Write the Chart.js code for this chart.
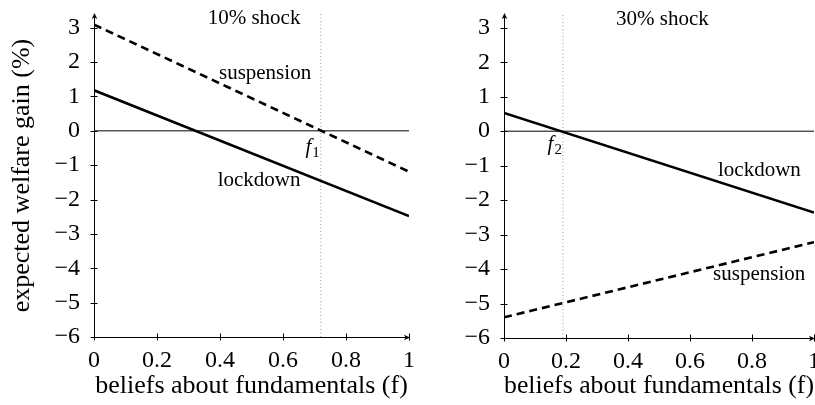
<!DOCTYPE html>
<html>
<head>
<meta charset="utf-8">
<script src="https://cdn.jsdelivr.net/npm/chart.js@4.4.1/dist/chart.umd.min.js"></script>
<style>
  html, body { margin: 0; padding: 0; background: #fff; overflow: hidden; }
  #wrap { position: relative; width: 815px; height: 405px; overflow: hidden; }
  canvas { position: absolute; top: 0; }
</style>
</head>
<body>
<div id="wrap">
  <canvas id="chartShock10" width="425" height="405" style="left:0"></canvas>
  <canvas id="chartShock30" width="430" height="405" style="left:410px"></canvas>
</div>
<script>
// dados
const xTicks = [0, 0.2, 0.4, 0.6, 0.8, 1];
const xTickLabels = ['0', '0.2', '0.4', '0.6', '0.8', '1'];
const yTicks = [-6, -5, -4, -3, -2, -1, 0, 1, 2, 3];
const yTickLabels = ['\u22126', '\u22125', '\u22124', '\u22123', '\u22122', '\u22121', '0', '1', '2', '3'];
const beliefs = [0, 1];
const lockdown10 = [1.18, -2.48];
const suspension10 = [3.09, -1.19];
const lockdown30 = [0.53, -2.36];
const suspension30 = [-5.4, -3.22];
const f1 = 0.72;
const f2 = 0.19;
const yMin = -6, yMax = 3.4;

const SERIF = "'Liberation Serif', 'Times New Roman', serif";
const INK = '#000';

function pts(xs, ys) {
    return xs.map((x, i) => ({ x: x, y: ys[i] }));
}

// ticks que cruzam os eixos, setas e rótulos de texto
const decor = {
    id: 'decor',
    afterDraw(chart, args, opts) {
        const { ctx, chartArea: a, scales: { x, y } } = chart;
        ctx.save();
        ctx.strokeStyle = INK;
        ctx.fillStyle = INK;
        ctx.lineWidth = 1;

        ctx.beginPath();
        yTicks.forEach(v => {
            const py = Math.round(y.getPixelForValue(v)) + 0.5;
            ctx.moveTo(a.left - 3.5, py);
            ctx.lineTo(a.left + 3.5, py);
        });
        xTicks.forEach(v => {
            const px = Math.round(x.getPixelForValue(v)) + 0.5;
            ctx.moveTo(px, a.bottom - 3.5);
            ctx.lineTo(px, a.bottom + 3.5);
        });
        ctx.stroke();

        // setas
        const ax = Math.round(a.left) + 0.5, ay = Math.round(a.bottom) + 0.5;
        ctx.beginPath();
        ctx.moveTo(ax, a.top - 1);
        ctx.lineTo(ax - 2.8, a.top + 5);
        ctx.lineTo(ax, a.top + 3.5);
        ctx.lineTo(ax + 2.8, a.top + 5);
        ctx.closePath();
        ctx.fill();
        ctx.beginPath();
        ctx.moveTo(a.right + 1, ay);
        ctx.lineTo(a.right - 5, ay - 2.8);
        ctx.lineTo(a.right - 3.5, ay);
        ctx.lineTo(a.right - 5, ay + 2.8);
        ctx.closePath();
        ctx.fill();

        // rótulos
        ctx.textBaseline = 'alphabetic';
        ctx.textAlign = 'center';
        ctx.font = '21px ' + SERIF;
        opts.labels.forEach(l => {
            ctx.fillText(l.text, x.getPixelForValue(l.x), y.getPixelForValue(l.y));
        });

        // f com índice
        const m = opts.marker;
        const right = x.getPixelForValue(m.x) - 1;
        const base = y.getPixelForValue(m.y);
        ctx.font = 'italic 21px ' + SERIF;
        const wf = ctx.measureText('f').width;
        ctx.font = '15px ' + SERIF;
        const ws = ctx.measureText(m.sub).width;
        ctx.textAlign = 'left';
        ctx.font = 'italic 21px ' + SERIF;
        ctx.fillText('f', right - ws - wf - 1, base);
        ctx.font = '15px ' + SERIF;
        ctx.fillText(m.sub, right - ws, base + 4);
        ctx.restore();
    }
};

function desenharPainel(id, o) {
    const ctx = document.getElementById(id);
    const H = ctx.height;
    new Chart(ctx, {
        type: 'line',
        data: {
            datasets: [
                { data: pts(beliefs, o.lockdown), borderColor: INK, borderWidth: 2.6, order: 1 },
                { data: pts(beliefs, o.suspension), borderColor: INK, borderWidth: 2.6, borderDash: [8, 5], order: 2 },
                { data: pts(beliefs, [0, 0]), borderColor: INK, borderWidth: 1, order: 3 },
                { data: [{ x: o.fStar, y: yMin }, { x: o.fStar, y: yMax }], borderColor: '#9a9a9a', borderWidth: 1, borderDash: [1, 2.5], order: 4 }
            ]
        },
        options: {
            responsive: false,
            animation: false,
            elements: { point: { radius: 0 }, line: { tension: 0, fill: false } },
            layout: { padding: { left: 0, right: o.padRight, top: o.top, bottom: 0 } },
            plugins: {
                legend: { display: false },
                tooltip: { enabled: false },
                decor: { labels: o.labels, marker: o.marker }
            },
            scales: {
                x: {
                    type: 'linear',
                    min: 0,
                    max: 1,
                    afterBuildTicks: s => { s.ticks = xTicks.map(v => ({ value: v })); },
                    afterFit: s => {
                        s.height = H - o.bottom;
                        s.paddingLeft = 0;
                        s.paddingRight = 0;
                    },
                    ticks: {
                        callback: (v, i) => xTickLabels[i],
                        color: INK,
                        font: { family: SERIF, size: 24 },
                        padding: 9,
                        maxRotation: 0,
                        autoSkip: false
                    },
                    grid: { display: false, drawTicks: false },
                    border: { display: true, color: INK, width: 1 },
                    title: {
                        display: true,
                        text: 'beliefs about fundamentals (f)',
                        color: INK,
                        font: { family: SERIF, size: 26 },
                        padding: { top: 0, bottom: 3 }
                    }
                },
                y: {
                    min: yMin,
                    max: yMax,
                    afterBuildTicks: s => { s.ticks = yTicks.map(v => ({ value: v })); },
                    afterFit: s => {
                        s.width = 94;
                        s.paddingTop = 0;
                        s.paddingBottom = 0;
                    },
                    ticks: {
                        callback: (v, i) => yTickLabels[i],
                        color: INK,
                        font: { family: SERIF, size: 24 },
                        padding: 14,
                        autoSkip: false
                    },
                    grid: { display: false, drawTicks: false },
                    border: { display: true, color: INK, width: 1 },
                    title: {
                        display: o.yTitle,
                        text: 'expected welfare gain (%)',
                        color: INK,
                        font: { family: SERIF, size: 26 },
                        padding: { top: 7, bottom: 0 }
                    }
                }
            }
        },
        plugins: [decor]
    });
}

desenharPainel('chartShock10', {
    lockdown: lockdown10,
    suspension: suspension10,
    fStar: f1,
    top: 14, bottom: 337, padRight: 16,
    yTitle: true,
    labels: [
        { text: '10% shock', x: 0.508, y: 3.12 },
        { text: 'suspension', x: 0.543, y: 1.52 },
        { text: 'lockdown', x: 0.524, y: -1.6 }
    ],
    marker: { x: f1, y: -0.64, sub: '1' }
});

desenharPainel('chartShock30', {
    lockdown: lockdown30,
    suspension: suspension30,
    fStar: f2,
    top: 14, bottom: 338, padRight: 26,
    yTitle: false,
    labels: [
        { text: '30% shock', x: 0.511, y: 3.09 },
        { text: 'lockdown', x: 0.824, y: -1.3 },
        { text: 'suspension', x: 0.823, y: -4.33 }
    ],
    marker: { x: f2, y: -0.55, sub: '2' }
});
</script>
</body>
</html>
